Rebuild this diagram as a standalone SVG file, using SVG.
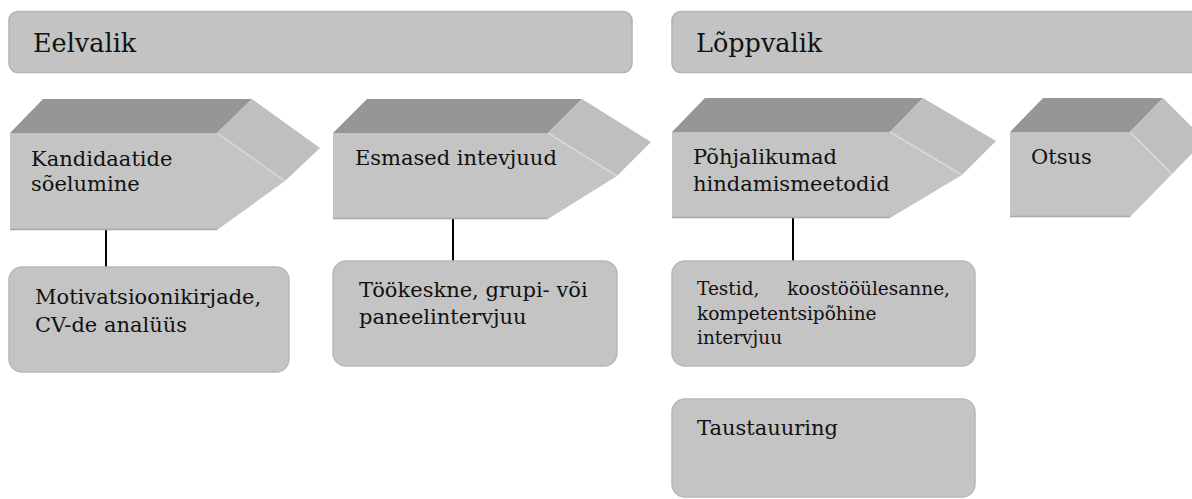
<svg xmlns="http://www.w3.org/2000/svg" width="1192" height="499" viewBox="0 0 1192 499">
  <style>
    .hdr { fill: #c3c3c3; stroke: #b3b3b3; stroke-width: 1.5; }
    .top { fill: #969696; }
    .side { fill: #bfbfbf; }
    .front { fill: #c4c4c4; }
    .hl { fill: none; stroke: #d9d9d9; stroke-width: 1.5; }
    .bot { fill: none; stroke: #a9a9a9; stroke-width: 1.5; }
    .box { fill: #c4c4c4; stroke: #b8b8b8; stroke-width: 1.5; }
    .t { font-family: "DejaVu Serif", "Liberation Serif", serif; fill: #111; font-size: 21px; }
    .th { font-size: 25.5px; }
    .ts { font-size: 18.5px; }
    .conn { stroke: #000; stroke-width: 2; fill: none; }
  </style>
  <rect width="1192" height="499" fill="#ffffff"/>

  <g id="header-eelvalik">
    <rect class="hdr" x="9" y="11.5" width="623" height="61" rx="9"/>
    <text class="t th" x="33" y="52">Eelvalik</text>
  </g>
  <g id="header-loppvalik">
    <rect class="hdr" x="672" y="11.5" width="540" height="61" rx="9"/>
    <text class="t th" x="696" y="52">Lõppvalik</text>
  </g>

  <g id="connectors">
    <line class="conn" x1="106" y1="230" x2="106" y2="268"/>
    <line class="conn" x1="453" y1="219" x2="453" y2="261"/>
    <line class="conn" x1="793" y1="218" x2="793" y2="261"/>
  </g>

  <g id="chevron-kandidaatide">
    <polygon class="top" points="10,133 43,99 252,99 217,133"/>
    <polygon class="side" points="217,133 252,99 320,148 285,181"/>
    <polygon class="front" points="10,133 217,133 285,181 217,230 10,230"/>
    <polyline class="hl" points="217,133 285,181"/>
    <polyline class="bot" points="10,229.5 217,229.5"/>
    <text class="t" x="31" y="166">Kandidaatide</text>
    <text class="t" x="31" y="191">sõelumine</text>
  </g>

  <g id="chevron-esmased">
    <polygon class="top" points="333,133 367,99 582,99 548,133"/>
    <polygon class="side" points="548,133 582,99 651,142 617,176"/>
    <polygon class="front" points="333,133 548,133 617,176 548,219 333,219"/>
    <polyline class="hl" points="548,133 617,176"/>
    <polyline class="bot" points="333,218.5 548,218.5"/>
    <text class="t" x="355" y="165">Esmased intevjuud</text>
  </g>

  <g id="chevron-pohjalikumad">
    <polygon class="top" points="672,132 705,98 923,98 890,132"/>
    <polygon class="side" points="890,132 923,98 996,141 962,175"/>
    <polygon class="front" points="672,132 890,132 962,175 890,218 672,218"/>
    <polyline class="hl" points="890,132 962,175"/>
    <polyline class="bot" points="672,217.5 890,217.5"/>
    <text class="t" x="693" y="164">Põhjalikumad</text>
    <text class="t" x="693" y="191">hindamismeetodid</text>
  </g>

  <g id="chevron-otsus">
    <polygon class="top" points="1010,132 1043,98 1163,98 1130,132"/>
    <polygon class="side" points="1130,132 1163,98 1205,140 1172,174"/>
    <polygon class="front" points="1010,132 1130,132 1172,174 1130,217 1010,217"/>
    <polyline class="hl" points="1130,132 1172,174"/>
    <polyline class="bot" points="1010,216.5 1130,216.5"/>
    <text class="t" x="1031" y="164">Otsus</text>
  </g>

  <g id="box-motivatsioon">
    <rect class="box" x="9" y="267" width="280" height="105" rx="13"/>
    <text class="t" x="35" y="304">Motivatsioonikirjade,</text>
    <text class="t" x="35" y="332">CV-de analüüs</text>
  </g>

  <g id="box-tookeskne">
    <rect class="box" x="333" y="261" width="284" height="105" rx="13"/>
    <text class="t" x="359" y="297">Töökeskne, grupi- või</text>
    <text class="t" x="359" y="324">paneelintervjuu</text>
  </g>

  <g id="box-testid">
    <rect class="box" x="672" y="261" width="303" height="105" rx="13"/>
    <text class="t ts" x="697" y="295">Testid,</text>
    <text class="t ts" x="950" y="295" text-anchor="end">koostööülesanne,</text>
    <text class="t ts" x="697" y="320">kompetentsipõhine</text>
    <text class="t ts" x="697" y="344">intervjuu</text>
  </g>

  <g id="box-taustauuring">
    <rect class="box" x="672" y="399" width="303" height="98" rx="13"/>
    <text class="t" x="697" y="435">Taustauuring</text>
  </g>
</svg>
